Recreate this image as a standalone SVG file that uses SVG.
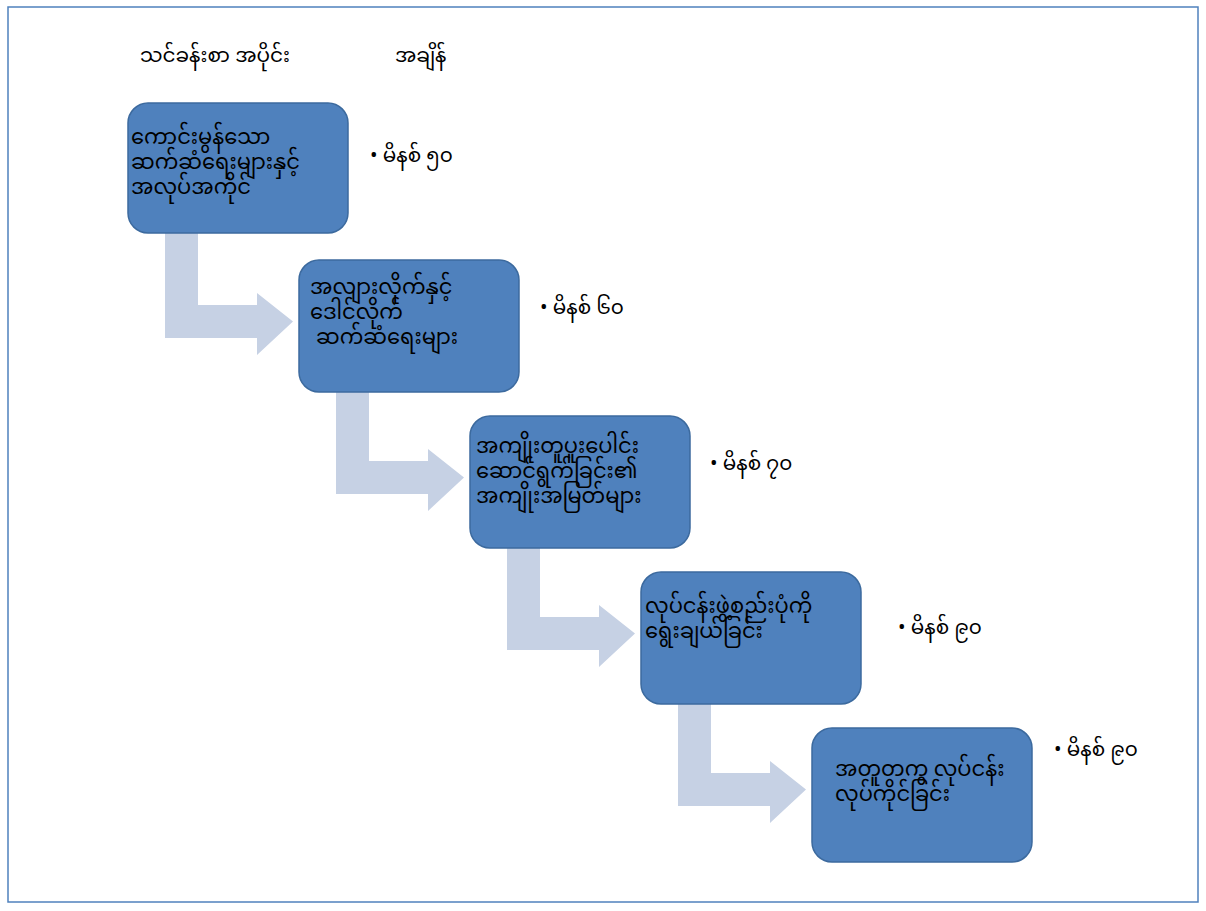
<svg xmlns="http://www.w3.org/2000/svg" width="1206" height="911" viewBox="0 0 1206 911">
<style>
text{font-family:"Noto Sans Myanmar","Padauk","Myanmar Text","Noto Sans",sans-serif;fill:#000}
.box{fill:#4f81bd;stroke:#3c6a9e;stroke-width:1.5}
.bt{font-size:21px}
.bl{font-size:20px}
.hd{font-size:20px}
.arr{fill:#c6d1e4}
</style>
<rect x="0" y="0" width="1206" height="911" fill="#ffffff"/>
<rect x="8" y="7" width="1190" height="895" fill="none" stroke="#4f81bd" stroke-width="1.5"/>
<g id="header">
<text class="hd" x="140" y="62">သင်ခန်းစာ အပိုင်း</text>
<text class="hd" x="395" y="62">အချိန်</text>
</g>
<g id="connectors">
<path class="arr" d="M165,233 H198 V305 H257 V293 L293,321.5 L257,355 V338 H165 Z"/>
<path class="arr" transform="translate(171,156)" d="M165,233 H198 V305 H257 V293 L293,321.5 L257,355 V338 H165 Z"/>
<path class="arr" transform="translate(342,312)" d="M165,233 H198 V305 H257 V293 L293,321.5 L257,355 V338 H165 Z"/>
<path class="arr" transform="translate(513,468)" d="M165,233 H198 V305 H257 V293 L293,321.5 L257,355 V338 H165 Z"/>
</g>
<g id="node1">
<rect class="box" x="128" y="103" width="220" height="130" rx="20"/>
<text class="bt" x="131" y="144">ကောင်းမွန်သော</text>
<text class="bt" x="131" y="169">ဆက်ဆံရေးများနှင့်</text>
<text class="bt" x="131" y="194">အလုပ်အကိုင်</text>
<text class="bl" x="370" y="162">•  မိနစ် ၅၀</text>
</g>
<g id="node2">
<rect class="box" x="299" y="260" width="220" height="132" rx="20"/>
<text class="bt" x="310" y="294">အလျားလိုက်နှင့်</text>
<text class="bt" x="310" y="319">ဒေါင်လိုက်</text>
<text class="bt" x="316" y="344">ဆက်ဆံရေးများ</text>
<text class="bl" x="540" y="314">• မိနစ် ၆၀</text>
</g>
<g id="node3">
<rect class="box" x="470" y="416" width="220" height="132" rx="20"/>
<text class="bt" x="476" y="453">အကျိုးတူပူးပေါင်း</text>
<text class="bt" x="476" y="478">ဆောင်ရွက်ခြင်း၏</text>
<text class="bt" x="476" y="503">အကျိုးအမြတ်များ</text>
<text class="bl" x="710" y="470">• မိနစ် ၇၀</text>
</g>
<g id="node4">
<rect class="box" x="641" y="572" width="220" height="132" rx="20"/>
<text class="bt" x="645" y="613">လုပ်ငန်းဖွဲ့စည်းပုံကို</text>
<text class="bt" x="645" y="638">ရွေးချယ်ခြင်း</text>
<text class="bl" x="898" y="634">•   မိနစ် ၉၀</text>
</g>
<g id="node5">
<rect class="box" x="812" y="728" width="220" height="134" rx="20"/>
<text class="bt" x="835" y="776">အတူတကွ လုပ်ငန်း</text>
<text class="bt" x="835" y="801">လုပ်ကိုင်ခြင်း</text>
<text class="bl" x="1054" y="756">• မိနစ် ၉၀</text>
</g>
</svg>
